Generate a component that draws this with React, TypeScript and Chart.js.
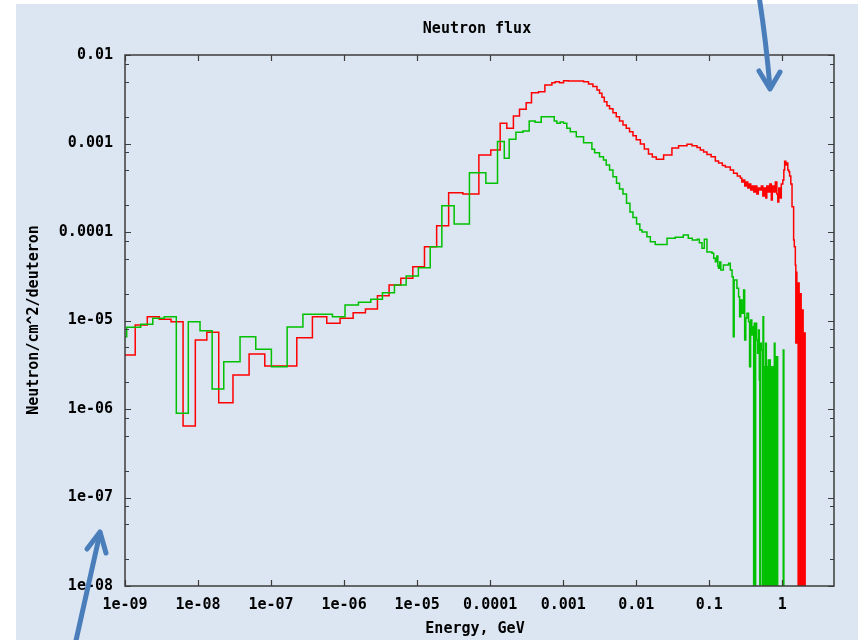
import React, { useEffect, useRef } from 'react';
import { Chart, registerables } from 'chart.js';

Chart.register(...registerables);

const chartTitle = 'Neutron flux';
const xAxisTitle = 'Energy, GeV';
const yAxisTitle = 'Neutron/cm^2/deuteron';

const xTickValues = [1e-9, 1e-8, 1e-7, 1e-6, 1e-5, 1e-4, 1e-3, 1e-2, 1e-1, 1];
const xTickLabels = ['1e-09', '1e-08', '1e-07', '1e-06', '1e-05', '0.0001', '0.001', '0.01', '0.1', '1'];
const yTickValues = [1e-8, 1e-7, 1e-6, 1e-5, 1e-4, 1e-3, 1e-2];
const yTickLabels = ['1e-08', '1e-07', '1e-06', '1e-05', '0.0001', '0.001', '0.01'];
const yMinorMultipliers = [2, 5, 8];
const xMin = 1e-9;
const xMax = 5.1;
const yMin = 1e-8;
const yMax = 1e-2;

// Red histogram: bin left edges (GeV); last entry is the right edge of the last bin
const redEnergy = [
  1e-9, 1.38e-9, 2.02e-9, 2.95e-9, 4.27e-9, 6.24e-9, 9.18e-9, 1.32e-8, 1.92e-8, 3.01e-8,
  5.0e-8, 8.2e-8, 2.25e-7, 3.68e-7, 5.79e-7, 8.81e-7, 1.33e-6, 1.96e-6, 2.86e-6, 4.13e-6,
  5.98e-6, 8.73e-6, 1.26e-5, 1.85e-5, 2.70e-5, 4.23e-5, 7.0e-5, 1.02e-4, 1.37e-4, 1.69e-4,
  2.08e-4, 2.52e-4, 3.11e-4, 3.68e-4, 4.59e-4, 5.61e-4, 7.0e-4, 7.76e-4, 8.89e-4, 1.01e-3,
  1.18e-3, 1.90e-3, 2.22e-3, 2.55e-3, 2.90e-3, 3.14e-3, 3.39e-3, 3.65e-3, 3.97e-3, 4.31e-3,
  4.80e-3, 5.32e-3, 5.90e-3, 6.58e-3, 7.30e-3, 8.09e-3, 9.02e-3, 1.00e-2, 1.14e-2, 1.29e-2,
  1.47e-2, 1.66e-2, 1.88e-2, 2.37e-2, 3.08e-2, 3.80e-2, 4.95e-2, 5.80e-2, 6.79e-2, 7.53e-2,
  8.36e-2, 9.30e-2, 0.106, 0.121, 0.134, 0.151, 0.166, 0.194, 0.215, 0.242,
  0.266, 0.279, 0.292, 0.306, 0.321, 0.337, 0.353, 0.370, 0.388, 0.407,
  0.427, 0.448, 0.469, 0.492, 0.516, 0.541, 0.567, 0.594, 0.613, 0.643,
  0.674, 0.707, 0.729, 0.765, 0.802, 0.841, 0.867, 0.895, 0.939, 0.968,
  1.016, 1.049, 1.076, 1.117, 1.153, 1.189, 1.228, 1.259, 1.307, 1.358,
  1.428, 1.459, 1.507, 1.531, 1.556, 1.581, 1.620, 1.646, 1.672, 1.699,
  1.726, 1.753, 1.781, 1.810, 1.839, 1.868, 1.897, 1.927, 1.958, 1.989,
  2.021, 2.053, 2.085,
];
const redFlux = [
  4.07e-6, 8.89e-6, 1.10e-5, 1.03e-5, 9.68e-6, 6.43e-7, 6.03e-6, 7.36e-6, 1.18e-6, 2.42e-6,
  4.18e-6, 3.06e-6, 6.40e-6, 1.10e-5, 9.29e-6, 1.06e-5, 1.22e-5, 1.35e-5, 1.91e-5, 2.52e-5,
  3.00e-5, 4.06e-5, 6.82e-5, 1.18e-4, 2.78e-4, 2.69e-4, 7.41e-4, 8.45e-4, 1.69e-3, 1.49e-3,
  2.05e-3, 2.43e-3, 2.89e-3, 3.75e-3, 3.85e-3, 4.58e-3, 4.86e-3, 4.99e-3, 4.86e-3, 5.12e-3,
  5.08e-3, 4.99e-3, 4.70e-3, 4.41e-3, 4.02e-3, 3.69e-3, 3.33e-3, 2.97e-3, 2.67e-3, 2.47e-3,
  2.23e-3, 2.01e-3, 1.80e-3, 1.62e-3, 1.49e-3, 1.36e-3, 1.22e-3, 1.10e-3, 9.87e-4, 8.67e-4,
  7.60e-4, 7.03e-4, 6.62e-4, 7.41e-4, 8.89e-4, 9.44e-4, 9.80e-4, 9.44e-4, 9.01e-4, 8.45e-4,
  8.02e-4, 7.51e-4, 7.10e-4, 6.34e-4, 6.02e-4, 5.64e-4, 5.42e-4, 5.02e-4, 4.61e-4, 4.29e-4,
  4.07e-4, 3.67e-4, 3.87e-4, 3.31e-4, 3.67e-4, 3.14e-4, 3.49e-4, 2.98e-4, 3.31e-4, 2.83e-4,
  3.31e-4, 2.69e-4, 3.14e-4, 2.98e-4, 3.31e-4, 2.55e-4, 3.14e-4, 2.42e-4, 3.31e-4, 2.83e-4,
  3.49e-4, 2.30e-4, 3.31e-4, 2.83e-4, 3.67e-4, 2.69e-4, 2.18e-4, 3.14e-4, 2.42e-4, 3.49e-4,
  3.87e-4, 5.02e-4, 6.3e-4, 5.71e-4, 6.02e-4, 5.02e-4, 4.8e-4, 4.29e-4, 3.49e-4, 1.93e-4,
  8.13e-5, 6.82e-5, 4.24e-5, 5.57e-6, 3.5e-5, 5.57e-6, 2.65e-5, 0, 2.65e-5, 0,
  2.0e-5, 0, 2.0e-5, 0, 1.31e-5, 0, 1.31e-5, 0, 7.22e-6, 0,
  7.22e-6, 0,
];

// Green histogram: bin left edges (GeV); last entry is the right edge of the last bin
const greenEnergy = [
  1e-9, 1.055e-9, 1.64e-9, 2.40e-9, 3.45e-9, 5.04e-9, 7.36e-9, 1.065e-8, 1.56e-8, 2.25e-8,
  3.76e-8, 6.17e-8, 1.01e-7, 1.66e-7, 2.73e-7, 6.92e-7, 1.03e-6, 1.57e-6, 2.32e-6, 3.35e-6,
  4.89e-6, 7.07e-6, 1.04e-5, 1.51e-5, 2.18e-5, 3.21e-5, 5.20e-5, 8.73e-5, 1.26e-4, 1.56e-4,
  1.82e-4, 2.25e-4, 2.81e-4, 3.42e-4, 4.13e-4, 5.00e-4, 7.53e-4, 8.20e-4, 9.10e-4, 1.01e-3,
  1.12e-3, 1.25e-3, 1.51e-3, 1.90e-3, 2.47e-3, 2.69e-3, 3.14e-3, 3.56e-3, 3.88e-3, 4.31e-3,
  4.80e-3, 5.37e-3, 5.90e-3, 6.58e-3, 7.36e-3, 8.20e-3, 9.02e-3, 1.01e-2, 1.12e-2, 1.20e-2,
  1.40e-2, 1.56e-2, 1.82e-2, 2.64e-2, 3.42e-2, 4.40e-2, 5.16e-2, 5.85e-2, 6.85e-2, 7.30e-2,
  7.94e-2, 8.55e-2, 9.30e-2, 0.109, 0.115, 0.121, 0.127, 0.131, 0.134, 0.139,
  0.144, 0.156, 0.184, 0.194, 0.205, 0.213, 0.219, 0.239, 0.252, 0.260,
  0.270, 0.281, 0.295, 0.305, 0.316, 0.328, 0.345, 0.356, 0.368, 0.382,
  0.397, 0.405, 0.413, 0.423, 0.431, 0.445, 0.459, 0.473, 0.484, 0.492,
  0.500, 0.516, 0.532, 0.544, 0.555, 0.567, 0.579, 0.590, 0.604, 0.617,
  0.629, 0.643, 0.657, 0.670, 0.685, 0.700, 0.713, 0.729, 0.746, 0.777,
  0.794, 0.809, 0.828, 0.846, 0.863, 1.03, 1.05, 1.06,
];
const greenFlux = [
  6.56e-6, 8.38e-6, 9.06e-6, 1.06e-5, 1.10e-5, 8.94e-7, 9.68e-6, 7.67e-6, 1.68e-6, 3.42e-6,
  6.56e-6, 4.73e-6, 3.01e-6, 8.45e-6, 1.18e-5, 1.10e-5, 1.50e-5, 1.61e-5, 1.74e-5, 2.06e-5,
  2.52e-5, 3.18e-5, 3.95e-5, 6.82e-5, 1.98e-4, 1.23e-4, 4.68e-4, 3.55e-4, 1.05e-3, 6.81e-4,
  1.12e-3, 1.34e-3, 1.38e-3, 1.80e-3, 1.74e-3, 2.01e-3, 1.80e-3, 1.69e-3, 1.75e-3, 1.69e-3,
  1.49e-3, 1.36e-3, 1.19e-3, 1.02e-3, 8.60e-4, 7.87e-4, 7.10e-4, 6.51e-4, 5.71e-4, 5.02e-4,
  4.22e-4, 3.55e-4, 3.06e-4, 2.69e-4, 2.11e-4, 1.68e-4, 1.46e-4, 1.23e-4, 1.05e-4, 1.00e-4,
  8.85e-5, 7.76e-5, 7.22e-5, 8.49e-5, 8.71e-5, 9.25e-5, 8.49e-5, 8.13e-5, 8.27e-5, 7.57e-5,
  6.55e-5, 8.30e-5, 5.94e-5, 5.74e-5, 5.04e-5, 4.62e-5, 5.36e-5, 4.13e-5, 3.89e-5, 4.58e-5,
  3.72e-5, 4.24e-5, 4.43e-5, 3.72e-5, 3.13e-5, 6.56e-6, 2.87e-5, 2.31e-5, 1.86e-5, 1.10e-5,
  1.71e-5, 1.21e-5, 2.21e-5, 6.03e-6, 1.07e-5, 1.21e-5, 9.68e-6, 3.01e-6, 1.01e-5, 6.86e-6,
  8.51e-6, 0, 9.29e-6, 0, 9.29e-6, 6.03e-6, 4.26e-6, 7.81e-6, 2.13e-6, 0,
  5.52e-6, 4.64e-6, 0, 1.10e-5, 0, 3.01e-6, 0, 5.52e-6, 0, 3.01e-6,
  0, 3.58e-6, 0, 3.58e-6, 0, 3.01e-6, 0, 3.01e-6, 0, 5.52e-6,
  0, 3.90e-6, 0, 3.90e-6, 0, 4.64e-6, 0,
];

const seriesColors = { red: '#ff0000', green: '#00c000' };
const FONT_FAMILY = '"DejaVu Sans Mono", monospace';
const FONT_SIZE = 15;

// a zero bin cannot be shown on a log axis: send it far below the plot (clipped)
const EMPTY_BIN = 1e-14;

function toSteps(edges: number[], flux: number[]) {
  const pts: { x: number; y: number }[] = [];
  for (let i = 0; i < flux.length; i++) {
    pts.push({ x: edges[i], y: flux[i] > 0 ? flux[i] : EMPTY_BIN });
  }
  const last = flux[flux.length - 1];
  pts.push({ x: edges[flux.length], y: last > 0 ? last : EMPTY_BIN });
  return pts;
}

function labelFor(values: number[], labels: string[], v: number) {
  const i = values.findIndex((t) => Math.abs(Math.log10(t) - Math.log10(v)) < 1e-6);
  return i >= 0 ? labels[i] : '';
}

const decorPlugin = {
  id: 'decor',
  beforeDraw(chart: any) {
    const { ctx, width, height } = chart;
    ctx.save();
    ctx.fillStyle = '#ffffff';
    ctx.fillRect(0, 0, width, height);
    ctx.fillStyle = '#dce6f2';
    ctx.fillRect(16, 4, width - 16, height - 4);
    ctx.restore();
  },
  afterDatasetsDraw(chart: any) {
    const { ctx, chartArea: a, scales } = chart;
    const xs = scales.x;
    const ys = scales.y;
    ctx.save();
    ctx.strokeStyle = '#3c3c3c';
    ctx.lineWidth = 1.2;
    ctx.beginPath();
    for (const v of xTickValues) {
      const px = Math.round(xs.getPixelForValue(v)) + 0.5;
      ctx.moveTo(px, a.bottom);
      ctx.lineTo(px, a.bottom - 6);
      ctx.moveTo(px, a.top);
      ctx.lineTo(px, a.top + 6);
    }
    for (const v of yTickValues) {
      const py = Math.round(ys.getPixelForValue(v)) + 0.5;
      ctx.moveTo(a.left, py);
      ctx.lineTo(a.left + 6, py);
      ctx.moveTo(a.right, py);
      ctx.lineTo(a.right - 6, py);
      for (const m of yMinorMultipliers) {
        const mv = v * m;
        if (mv >= yMax) continue;
        const pm = Math.round(ys.getPixelForValue(mv)) + 0.5;
        ctx.moveTo(a.left, pm);
        ctx.lineTo(a.left + 4, pm);
        ctx.moveTo(a.right, pm);
        ctx.lineTo(a.right - 4, pm);
      }
    }
    ctx.stroke();
    ctx.lineWidth = 1.5;
    ctx.strokeRect(a.left, a.top, a.right - a.left, a.bottom - a.top);
    ctx.restore();
  },
  afterDraw(chart: any) {
    const { ctx } = chart;
    ctx.save();
    ctx.fillStyle = '#000000';
    ctx.font = `bold ${FONT_SIZE}px ${FONT_FAMILY}`;
    ctx.textAlign = 'center';
    ctx.textBaseline = 'middle';
    ctx.fillText(chartTitle, 477, 29);
    ctx.fillText(xAxisTitle, 475, 629);
    ctx.translate(34, 320);
    ctx.rotate(-Math.PI / 2);
    ctx.fillText(yAxisTitle, 0, 0);
    ctx.restore();

    // blue annotation arrows
    ctx.save();
    ctx.strokeStyle = '#4a7ebb';
    ctx.lineWidth = 5;
    ctx.lineCap = 'round';
    ctx.lineJoin = 'round';
    ctx.beginPath();
    ctx.moveTo(759, -4);
    ctx.quadraticCurveTo(766, 40, 770, 88);
    ctx.stroke();
    ctx.beginPath();
    ctx.moveTo(759, 71);
    ctx.lineTo(770, 89);
    ctx.lineTo(780, 72);
    ctx.stroke();
    ctx.beginPath();
    ctx.moveTo(75, 645);
    ctx.lineTo(100, 533);
    ctx.stroke();
    ctx.beginPath();
    ctx.moveTo(87, 549);
    ctx.lineTo(100, 532);
    ctx.lineTo(106, 553);
    ctx.stroke();
    ctx.restore();
  },
};

export default function App() {
  const canvasRef = useRef<HTMLCanvasElement | null>(null);

  useEffect(() => {
    const canvas = canvasRef.current;
    if (!canvas) return;
    const tickFont = { family: FONT_FAMILY, size: FONT_SIZE, weight: 'bold' as const };
    const chart = new Chart(canvas, {
      type: 'line',
      data: {
        datasets: [
          {
            label: 'green',
            data: toSteps(greenEnergy, greenFlux),
            borderColor: seriesColors.green,
            backgroundColor: seriesColors.green,
            borderWidth: 1.5,
            pointRadius: 0,
            stepped: true,
            fill: false,
          },
          {
            label: 'red',
            data: toSteps(redEnergy, redFlux),
            borderColor: seriesColors.red,
            backgroundColor: seriesColors.red,
            borderWidth: 1.5,
            pointRadius: 0,
            stepped: true,
            fill: false,
          },
        ],
      },
      options: {
        animation: false,
        responsive: false,
        maintainAspectRatio: false,
        devicePixelRatio: 1,
        events: [],
        layout: { padding: { left: 0, top: 55, right: 24, bottom: 0 } },
        plugins: {
          legend: { display: false },
          tooltip: { enabled: false },
          title: { display: false },
        },
        scales: {
          x: {
            type: 'logarithmic',
            position: 'bottom',
            min: xMin,
            max: xMax,
            grid: { display: false, drawTicks: false },
            border: { display: false },
            afterBuildTicks: (axis: any) => {
              axis.ticks = xTickValues.map((v) => ({ value: v }));
            },
            afterFit: (axis: any) => {
              axis.height = 54;
            },
            ticks: {
              autoSkip: false,
              maxRotation: 0,
              minRotation: 0,
              padding: 10,
              color: '#000000',
              font: tickFont,
              callback: (v: any) => labelFor(xTickValues, xTickLabels, Number(v)),
            },
          },
          y: {
            type: 'logarithmic',
            position: 'left',
            min: yMin,
            max: yMax,
            grid: { display: false, drawTicks: false },
            border: { display: false },
            afterBuildTicks: (axis: any) => {
              axis.ticks = yTickValues.map((v) => ({ value: v }));
            },
            afterFit: (axis: any) => {
              axis.width = 125;
            },
            ticks: {
              autoSkip: false,
              padding: 12,
              color: '#000000',
              font: tickFont,
              callback: (v: any) => labelFor(yTickValues, yTickLabels, Number(v)),
            },
          },
        },
      },
      plugins: [decorPlugin],
    } as any);
    return () => chart.destroy();
  }, []);

  return (
    <div style={{ position: 'absolute', left: 0, top: 0, width: 858, height: 640, background: '#ffffff' }}>
      <canvas ref={canvasRef} width={858} height={640} style={{ width: 858, height: 640, display: 'block' }} />
    </div>
  );
}
